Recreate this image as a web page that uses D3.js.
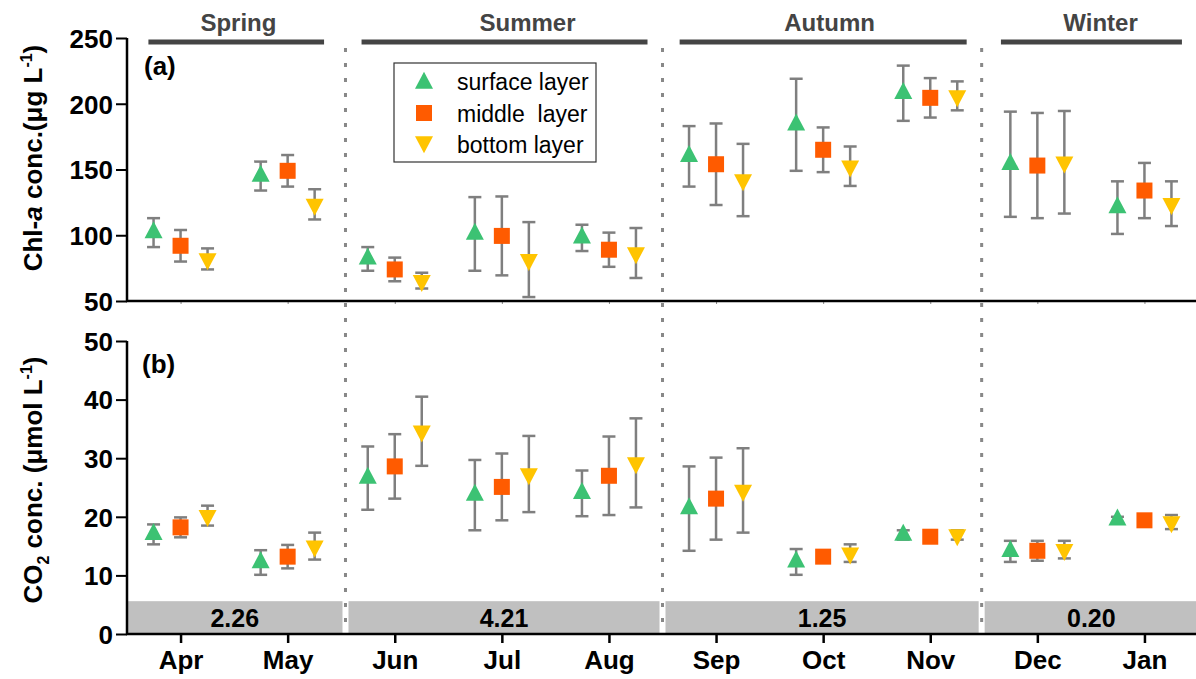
<!DOCTYPE html>
<html>
<head>
<meta charset="utf-8">
<script src="https://cdn.jsdelivr.net/npm/d3@7"></script>
<style>
  html, body { margin: 0; padding: 0; background: #fff; }
  svg text { font-family: "Liberation Sans", Arial, sans-serif; }
</style>
</head>
<body>
<div id="chart"></div>
<script>
// months and seasons
const months = ['Apr', 'May', 'Jun', 'Jul', 'Aug', 'Sep', 'Oct', 'Nov', 'Dec', 'Jan'];
const seasons = ['Spring', 'Summer', 'Autumn', 'Winter'];
// season bars in month-index units: start, end, label center
const seasonStart = [-0.3, 1.69, 4.66, 7.66];
const seasonEnd = [1.34, 4.36, 7.34, 9.35];
const seasonLabelAt = [0.54, 3.24, 6.06, 8.59];
// dotted separators between seasons (month-index units)
const separators = [1.54, 4.5, 7.48];
// numbers shown in grey bands of panel (b)
const bandValues = ['2.26', '4.21', '1.25', '0.20'];

// panel (a) Chl-a, mean and sd
const chlSurface = [102, 145, 82, 101, 98, 160, 184, 208, 154, 121];
const chlSurfaceErr = [11, 11, 9, 28, 10, 23, 35, 21, 40, 20];
const chlMiddle = [92, 149, 74, 99.5, 89, 154, 165, 204.5, 153, 134];
const chlMiddleErr = [12, 12, 9, 30, 13, 31, 17, 15, 40, 21];
const chlBottom = [82, 123.5, 65.5, 81.5, 86.5, 142, 152.5, 206, 155.5, 124];
const chlBottomErr = [8, 11.5, 6, 28.5, 19, 27.5, 15, 11, 39, 17];

// panel (b) CO2, mean and sd
const co2Surface = [17, 12.2, 26.6, 23.7, 24, 21.4, 12.3, 16.9, 14.1, 19.5];
const co2SurfaceErr = [1.7, 2.1, 5.4, 6, 3.9, 7.2, 2.2, 0.8, 1.8, 0.5];
const co2Middle = [18.2, 13.2, 28.6, 25.1, 27, 23.1, 13.2, 16.6, 14.2, 19.4];
const co2MiddleErr = [1.7, 2, 5.5, 5.7, 6.7, 7, 1, 0.9, 1.7, 0.6];
const co2Bottom = [20.2, 15, 34.6, 27.3, 29.2, 24.5, 13.8, 16.9, 14.4, 19.1];
const co2BottomErr = [1.7, 2.3, 5.9, 6.5, 7.6, 7.2, 1.5, 0.8, 1.5, 1.2];

const colors = {surface: '#3cc273', middle: '#ff5b00', bottom: '#ffc400'};
const errColor = '#7f7f7f';

const W = 1196, H = 679;
const svg = d3.select('#chart').append('svg')
    .attr('width', W)
    .attr('height', H);

const x = d3.scaleLinear().domain([-0.5, 9.5]).range([127, 1198]);
const yA = d3.scaleLinear().domain([50, 250]).range([301, 38]);
const yB = d3.scaleLinear().domain([0, 50]).range([634, 341]);

// grey bands in panel (b)
let bandEdges = [-0.5].concat(separators).concat([9.5]);
for (let i = 0; i < bandValues.length; i++) {
    let x0 = x(bandEdges[i]) + (i === 0 ? 0 : 3),
        x1 = x(bandEdges[i + 1]) - (i === bandValues.length - 1 ? 0 : 3);
    svg.append('rect')
        .attr('x', x0)
        .attr('y', yB(5.6))
        .attr('width', x1 - x0)
        .attr('height', yB(0) - yB(5.6))
        .attr('fill', '#c0c0c0');
    svg.append('text')
        .attr('x', (x0 + x1) / 2)
        .attr('y', 627)
        .attr('text-anchor', 'middle')
        .style('font-size', '25px')
        .style('font-weight', 'bold')
        .text(bandValues[i]);
}

// dotted season separators
svg.selectAll('line.sep')
    .data(separators)
    .enter()
    .append('line')
    .attr('class', 'sep')
    .attr('x1', d => x(d))
    .attr('x2', d => x(d))
    .attr('y1', 48)
    .attr('y2', 634)
    .attr('stroke', '#888')
    .attr('stroke-width', 3)
    .attr('stroke-dasharray', '4,11');

// season bars and labels
for (let i = 0; i < seasons.length; i++) {
    svg.append('line')
        .attr('x1', x(seasonStart[i]))
        .attr('x2', x(seasonEnd[i]))
        .attr('y1', 42)
        .attr('y2', 42)
        .attr('stroke', '#444')
        .attr('stroke-width', 5);
    svg.append('text')
        .attr('x', x(seasonLabelAt[i]))
        .attr('y', 31)
        .attr('text-anchor', 'middle')
        .attr('fill', '#444')
        .style('font-size', '24px')
        .style('font-weight', 'bold')
        .text(seasons[i]);
}

// axes
function yAxis(scale, major, minor, fmt) {
    let g = svg.append('g').attr('transform', 'translate(127,0)');
    g.call(d3.axisLeft(scale).tickValues(minor).tickSize(6).tickFormat(''));
    g.call(d3.axisLeft(scale).tickValues(major).tickSize(11).tickPadding(3).tickFormat(fmt));
    g.selectAll('path.domain').remove();
    g.selectAll('line').attr('stroke', '#000').attr('stroke-width', 2);
    g.selectAll('text')
        .style('font-size', '26px')
        .style('font-weight', 'bold')
        .attr('dy', '0.36em');
    g.append('line')
        .attr('x1', 0).attr('x2', 0)
        .attr('y1', scale.range()[1])
        .attr('y2', scale.range()[0] + 1)
        .attr('stroke', '#000')
        .attr('stroke-width', 2.5);
}
yAxis(yA, [50, 100, 150, 200, 250], [75, 125, 175, 225], d3.format('d'));
yAxis(yB, [0, 10, 20, 30, 40, 50], [5, 15, 25, 35, 45], d3.format('d'));

// bottom x axis lines
let xTop = svg.append('g').attr('transform', 'translate(0,301)');
xTop.call(d3.axisBottom(x).tickValues(d3.range(10)).tickSize(3).tickFormat(''));
xTop.selectAll('path.domain').remove();
xTop.selectAll('line').attr('stroke', '#888').attr('stroke-width', 1);
xTop.append('line').attr('x1', 126).attr('x2', W).attr('stroke', '#000').attr('stroke-width', 2.5);

let xBot = svg.append('g').attr('transform', 'translate(0,634)');
xBot.call(d3.axisBottom(x).tickValues(d3.range(10)).tickSize(9).tickPadding(8)
    .tickFormat(i => months[i]));
xBot.selectAll('path.domain').remove();
xBot.selectAll('line').attr('stroke', '#000').attr('stroke-width', 2.5);
xBot.selectAll('text')
    .style('font-size', '26px')
    .style('font-weight', 'bold')
    .attr('dy', '0.71em');
xBot.append('line').attr('x1', 126).attr('x2', W).attr('stroke', '#000').attr('stroke-width', 2.5);

// marker shapes
function triUp(cx, cy) {
    return 'M' + cx + ',' + (cy - 11.3) + 'L' + (cx + 9) + ',' + (cy + 5.7) + 'L' + (cx - 9) + ',' + (cy + 5.7) + 'Z';
}
function triDown(cx, cy) {
    return 'M' + cx + ',' + (cy + 11.3) + 'L' + (cx + 9) + ',' + (cy - 5.7) + 'L' + (cx - 9) + ',' + (cy - 5.7) + 'Z';
}

function drawSeries(scale, means, errs, dx, kind) {
    let g = svg.append('g');
    means.forEach((m, i) => {
        let cx = x(i) + dx,
            hi = scale(m + errs[i]),
            lo = scale(m - errs[i]);
        g.append('line')
            .attr('x1', cx).attr('x2', cx)
            .attr('y1', hi).attr('y2', lo)
            .attr('stroke', errColor).attr('stroke-width', 2.5);
        [hi, lo].forEach(yy => {
            g.append('line')
                .attr('x1', cx - 6.5).attr('x2', cx + 6.5)
                .attr('y1', yy).attr('y2', yy)
                .attr('stroke', errColor).attr('stroke-width', 2.5);
        });
        let cy = scale(m);
        if (kind === 'surface') {
            g.append('path').attr('d', triUp(cx, cy)).attr('fill', colors.surface);
        } else if (kind === 'middle') {
            g.append('rect')
                .attr('x', cx - 8).attr('y', cy - 8)
                .attr('width', 16).attr('height', 16)
                .attr('fill', colors.middle);
        } else {
            g.append('path').attr('d', triDown(cx, cy)).attr('fill', colors.bottom);
        }
    });
}
drawSeries(yA, chlSurface, chlSurfaceErr, -27, 'surface');
drawSeries(yA, chlMiddle, chlMiddleErr, 0, 'middle');
drawSeries(yA, chlBottom, chlBottomErr, 27, 'bottom');
drawSeries(yB, co2Surface, co2SurfaceErr, -27, 'surface');
drawSeries(yB, co2Middle, co2MiddleErr, 0, 'middle');
drawSeries(yB, co2Bottom, co2BottomErr, 27, 'bottom');

// panel letters
svg.append('text').attr('x', 144).attr('y', 75)
    .style('font-size', '26px').style('font-weight', 'bold').text('(a)');
svg.append('text').attr('x', 142).attr('y', 373)
    .style('font-size', '26px').style('font-weight', 'bold').text('(b)');

// y titles
let tA = svg.append('text')
    .attr('transform', 'translate(42,158) rotate(-90)')
    .attr('text-anchor', 'middle')
    .style('font-size', '26px')
    .style('font-weight', 'bold');
tA.append('tspan').text('Chl-');
tA.append('tspan').style('font-style', 'italic').text('a');
tA.append('tspan').text(' conc.(μg L');
tA.append('tspan').attr('dy', -10).style('font-size', '16px').text('-1');
tA.append('tspan').attr('dy', 10).text(')');

let tB = svg.append('text')
    .attr('transform', 'translate(42,480) rotate(-90)')
    .attr('text-anchor', 'middle')
    .style('font-size', '26px')
    .style('font-weight', 'bold');
tB.append('tspan').text('CO');
tB.append('tspan').attr('dy', 7).style('font-size', '16px').text('2');
tB.append('tspan').attr('dy', -7).text(' conc. (μmol L');
tB.append('tspan').attr('dy', -10).style('font-size', '16px').text('-1');
tB.append('tspan').attr('dy', 10).text(')');

// legend
const legendLabels = ['surface layer', 'middle\u00a0 layer', 'bottom layer'];
const legendKinds = ['surface', 'middle', 'bottom'];
let lg = svg.append('g');
lg.append('rect')
    .attr('x', 394).attr('y', 63)
    .attr('width', 202).attr('height', 99)
    .attr('fill', '#fff')
    .attr('stroke', '#333')
    .attr('stroke-width', 1.2);
legendKinds.forEach((k, i) => {
    let cy = [81, 113, 144][i];
    if (k === 'surface') {
        lg.append('path').attr('d', triUp(424, cy + 2)).attr('fill', colors.surface);
    } else if (k === 'middle') {
        lg.append('rect').attr('x', 416).attr('y', cy - 8).attr('width', 16).attr('height', 16).attr('fill', colors.middle);
    } else {
        lg.append('path').attr('d', triDown(424, cy - 2)).attr('fill', colors.bottom);
    }
    lg.append('text')
        .attr('x', 457)
        .attr('y', [90, 122, 153][i])
        .style('font-size', '23px')
        .text(legendLabels[i]);
});
</script>
</body>
</html>
